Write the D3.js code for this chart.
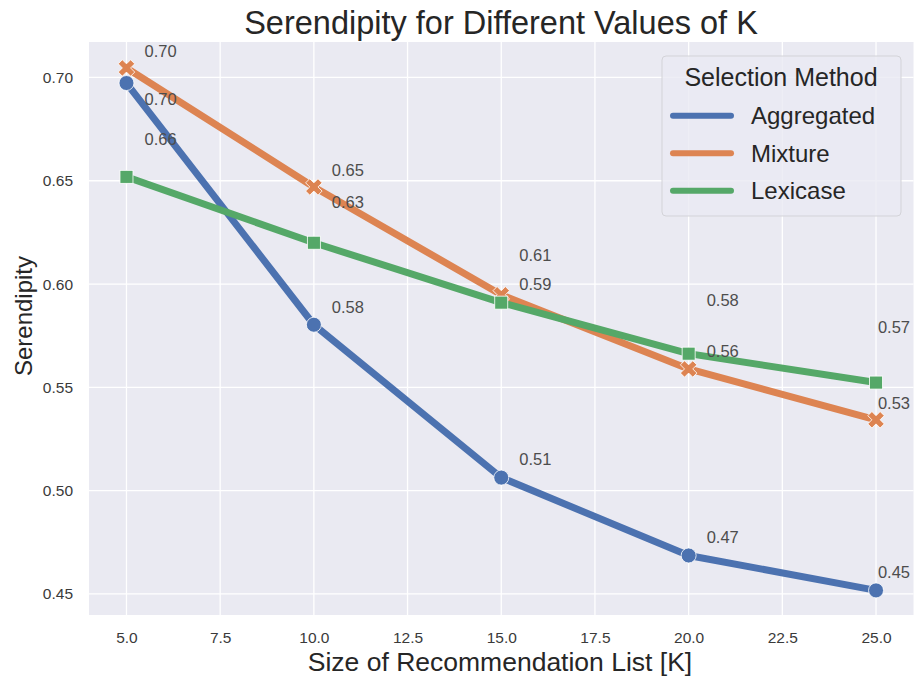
<!DOCTYPE html>
<html>
<head>
<meta charset="utf-8">
<script src="https://cdn.jsdelivr.net/npm/d3@7"></script>
<style>
  html, body { margin: 0; padding: 0; background: #ffffff; }
  svg { display: block; }
  text { font-family: "Liberation Sans", Arial, "DejaVu Sans", sans-serif; }
</style>
</head>
<body>
<svg id="chart" width="914" height="677"></svg>
<script>
// ---- data ----
const kValues = [5, 10, 15, 20, 25];
const seriesNames = ["Aggregated", "Mixture", "Lexicase"];
const aggregated = [0.6973, 0.5803, 0.5063, 0.4686, 0.4517];
const mixture    = [0.7046, 0.6470, 0.5948, 0.5589, 0.5343];
const lexicase   = [0.6519, 0.6200, 0.5910, 0.5663, 0.5523];
const xTicks = [5.0, 7.5, 10.0, 12.5, 15.0, 17.5, 20.0, 22.5, 25.0];
const yTicks = [0.45, 0.50, 0.55, 0.60, 0.65, 0.70];
// value labels (text, K position, value position)
const annotText = ["0.70", "0.70", "0.66", "0.65", "0.63", "0.58", "0.61", "0.59", "0.51", "0.58", "0.56", "0.47", "0.57", "0.53", "0.45"];
const annotK    = [5.48, 5.48, 5.48, 10.48, 10.48, 10.48, 15.48, 15.48, 15.48, 20.48, 20.48, 20.48, 25.05, 25.05, 25.05];
const annotV    = [0.7128, 0.6896, 0.6703, 0.6553, 0.6398, 0.5890, 0.6138, 0.6000, 0.5150, 0.5924, 0.5677, 0.4773, 0.5789, 0.5421, 0.4604];

const colors = ["#4c72b0", "#dd8452", "#55a868"];
const markers = ["circle", "cross", "square"];
const series = [aggregated, mixture, lexicase];

// ---- layout ----
const svg = d3.select("#chart");
const L = 89, R = 913.5, T = 42, B = 615;

const x = d3.scaleLinear().domain([4, 26]).range([L, R]);
const y = d3.scaleLinear().domain([0.43979, 0.71717]).range([B, T]);

// background
svg.append("rect").attr("x", L).attr("y", T).attr("width", R - L).attr("height", B - T).attr("fill", "#eaeaf2");

// grid
svg.append("g").selectAll("line").data(xTicks).join("line")
  .attr("x1", d => x(d)).attr("x2", d => x(d)).attr("y1", T).attr("y2", B)
  .attr("stroke", "#ffffff").attr("stroke-width", 1.3);
svg.append("g").selectAll("line").data(yTicks).join("line")
  .attr("x1", L).attr("x2", R).attr("y1", d => y(d)).attr("y2", d => y(d))
  .attr("stroke", "#ffffff").attr("stroke-width", 1.3);

// axes (ticks labels only)
const xAxis = d3.axisBottom(x).tickValues(xTicks).tickFormat(d3.format(".1f")).tickSize(0).tickPadding(17);
const gx = svg.append("g").attr("transform", `translate(0,${B})`).call(xAxis);
const yAxis = d3.axisLeft(y).tickValues(yTicks).tickFormat(d3.format(".2f")).tickSize(0).tickPadding(16);
const gy = svg.append("g").attr("transform", `translate(${L},0)`).call(yAxis);
[gx, gy].forEach(g => {
  g.select(".domain").remove();
  g.selectAll("text").attr("font-size", 15.5).attr("fill", "#3a3a3a")
    .attr("font-family", '"Liberation Sans", Arial, sans-serif');
});

// lines
const line = d3.line().x((d, i) => x(kValues[i])).y(d => y(d));
series.forEach((s, si) => {
  svg.append("path").datum(s).attr("d", line)
    .attr("fill", "none").attr("stroke", colors[si]).attr("stroke-width", 7)
    .attr("stroke-linejoin", "round").attr("stroke-linecap", "round");
  const g = svg.append("g");
  s.forEach((v, i) => {
    const cx = x(kValues[i]), cy = y(v);
    if (markers[si] === "circle") {
      g.append("circle").attr("cx", cx).attr("cy", cy).attr("r", 7.5)
        .attr("fill", colors[si]).attr("stroke", "#ffffff").attr("stroke-width", 0.8);
    } else if (markers[si] === "cross") {
      g.append("path").attr("transform", `translate(${cx},${cy}) rotate(45)`)
        .attr("d", d3.symbol(d3.symbolCross, 170)())
        .attr("fill", colors[si]).attr("stroke", "#ffffff").attr("stroke-width", 0.8);
    } else {
      g.append("rect").attr("x", cx - 6.5).attr("y", cy - 6.5).attr("width", 13).attr("height", 13)
        .attr("fill", colors[si]).attr("stroke", "#ffffff").attr("stroke-width", 0.8);
    }
  });
});

// value labels
svg.append("g").selectAll("text").data(annotText).join("text")
  .attr("x", (d, i) => x(annotK[i]))
  .attr("y", (d, i) => y(annotV[i]))
  .attr("dy", "0.35em")
  .attr("font-size", 16.5).attr("fill", "#4d4d4d")
  .text(d => d);

// title and axis labels
svg.append("text").attr("x", 501).attr("y", 34).attr("text-anchor", "middle")
  .attr("font-size", 32.5).attr("fill", "#262626").text("Serendipity for Different Values of K");
svg.append("text").attr("x", 500).attr("y", 671).attr("text-anchor", "middle")
  .attr("font-size", 26.5).attr("fill", "#262626").text("Size of Recommendation List [K]");
svg.append("text").attr("transform", "translate(32,316) rotate(-90)").attr("text-anchor", "middle")
  .attr("font-size", 24).attr("fill", "#262626").text("Serendipity");

// legend
const lg = svg.append("g");
lg.append("rect").attr("x", 662).attr("y", 56).attr("width", 239).attr("height", 160).attr("rx", 4)
  .attr("fill", "#eaeaf2").attr("fill-opacity", 0.8).attr("stroke", "#d3d3d8").attr("stroke-width", 1);
lg.append("text").attr("x", 781).attr("y", 86).attr("text-anchor", "middle")
  .attr("font-size", 25).attr("fill", "#262626").text("Selection Method");
seriesNames.forEach((n, i) => {
  const yy = 115.7 + i * 37.5;
  lg.append("line").attr("x1", 673).attr("x2", 731).attr("y1", yy).attr("y2", yy)
    .attr("stroke", colors[i]).attr("stroke-width", 6).attr("stroke-linecap", "round");
  lg.append("text").attr("x", 751).attr("y", yy).attr("dy", "0.36em")
    .attr("font-size", 24).attr("fill", "#262626").text(n);
});
</script>
</body>
</html>
